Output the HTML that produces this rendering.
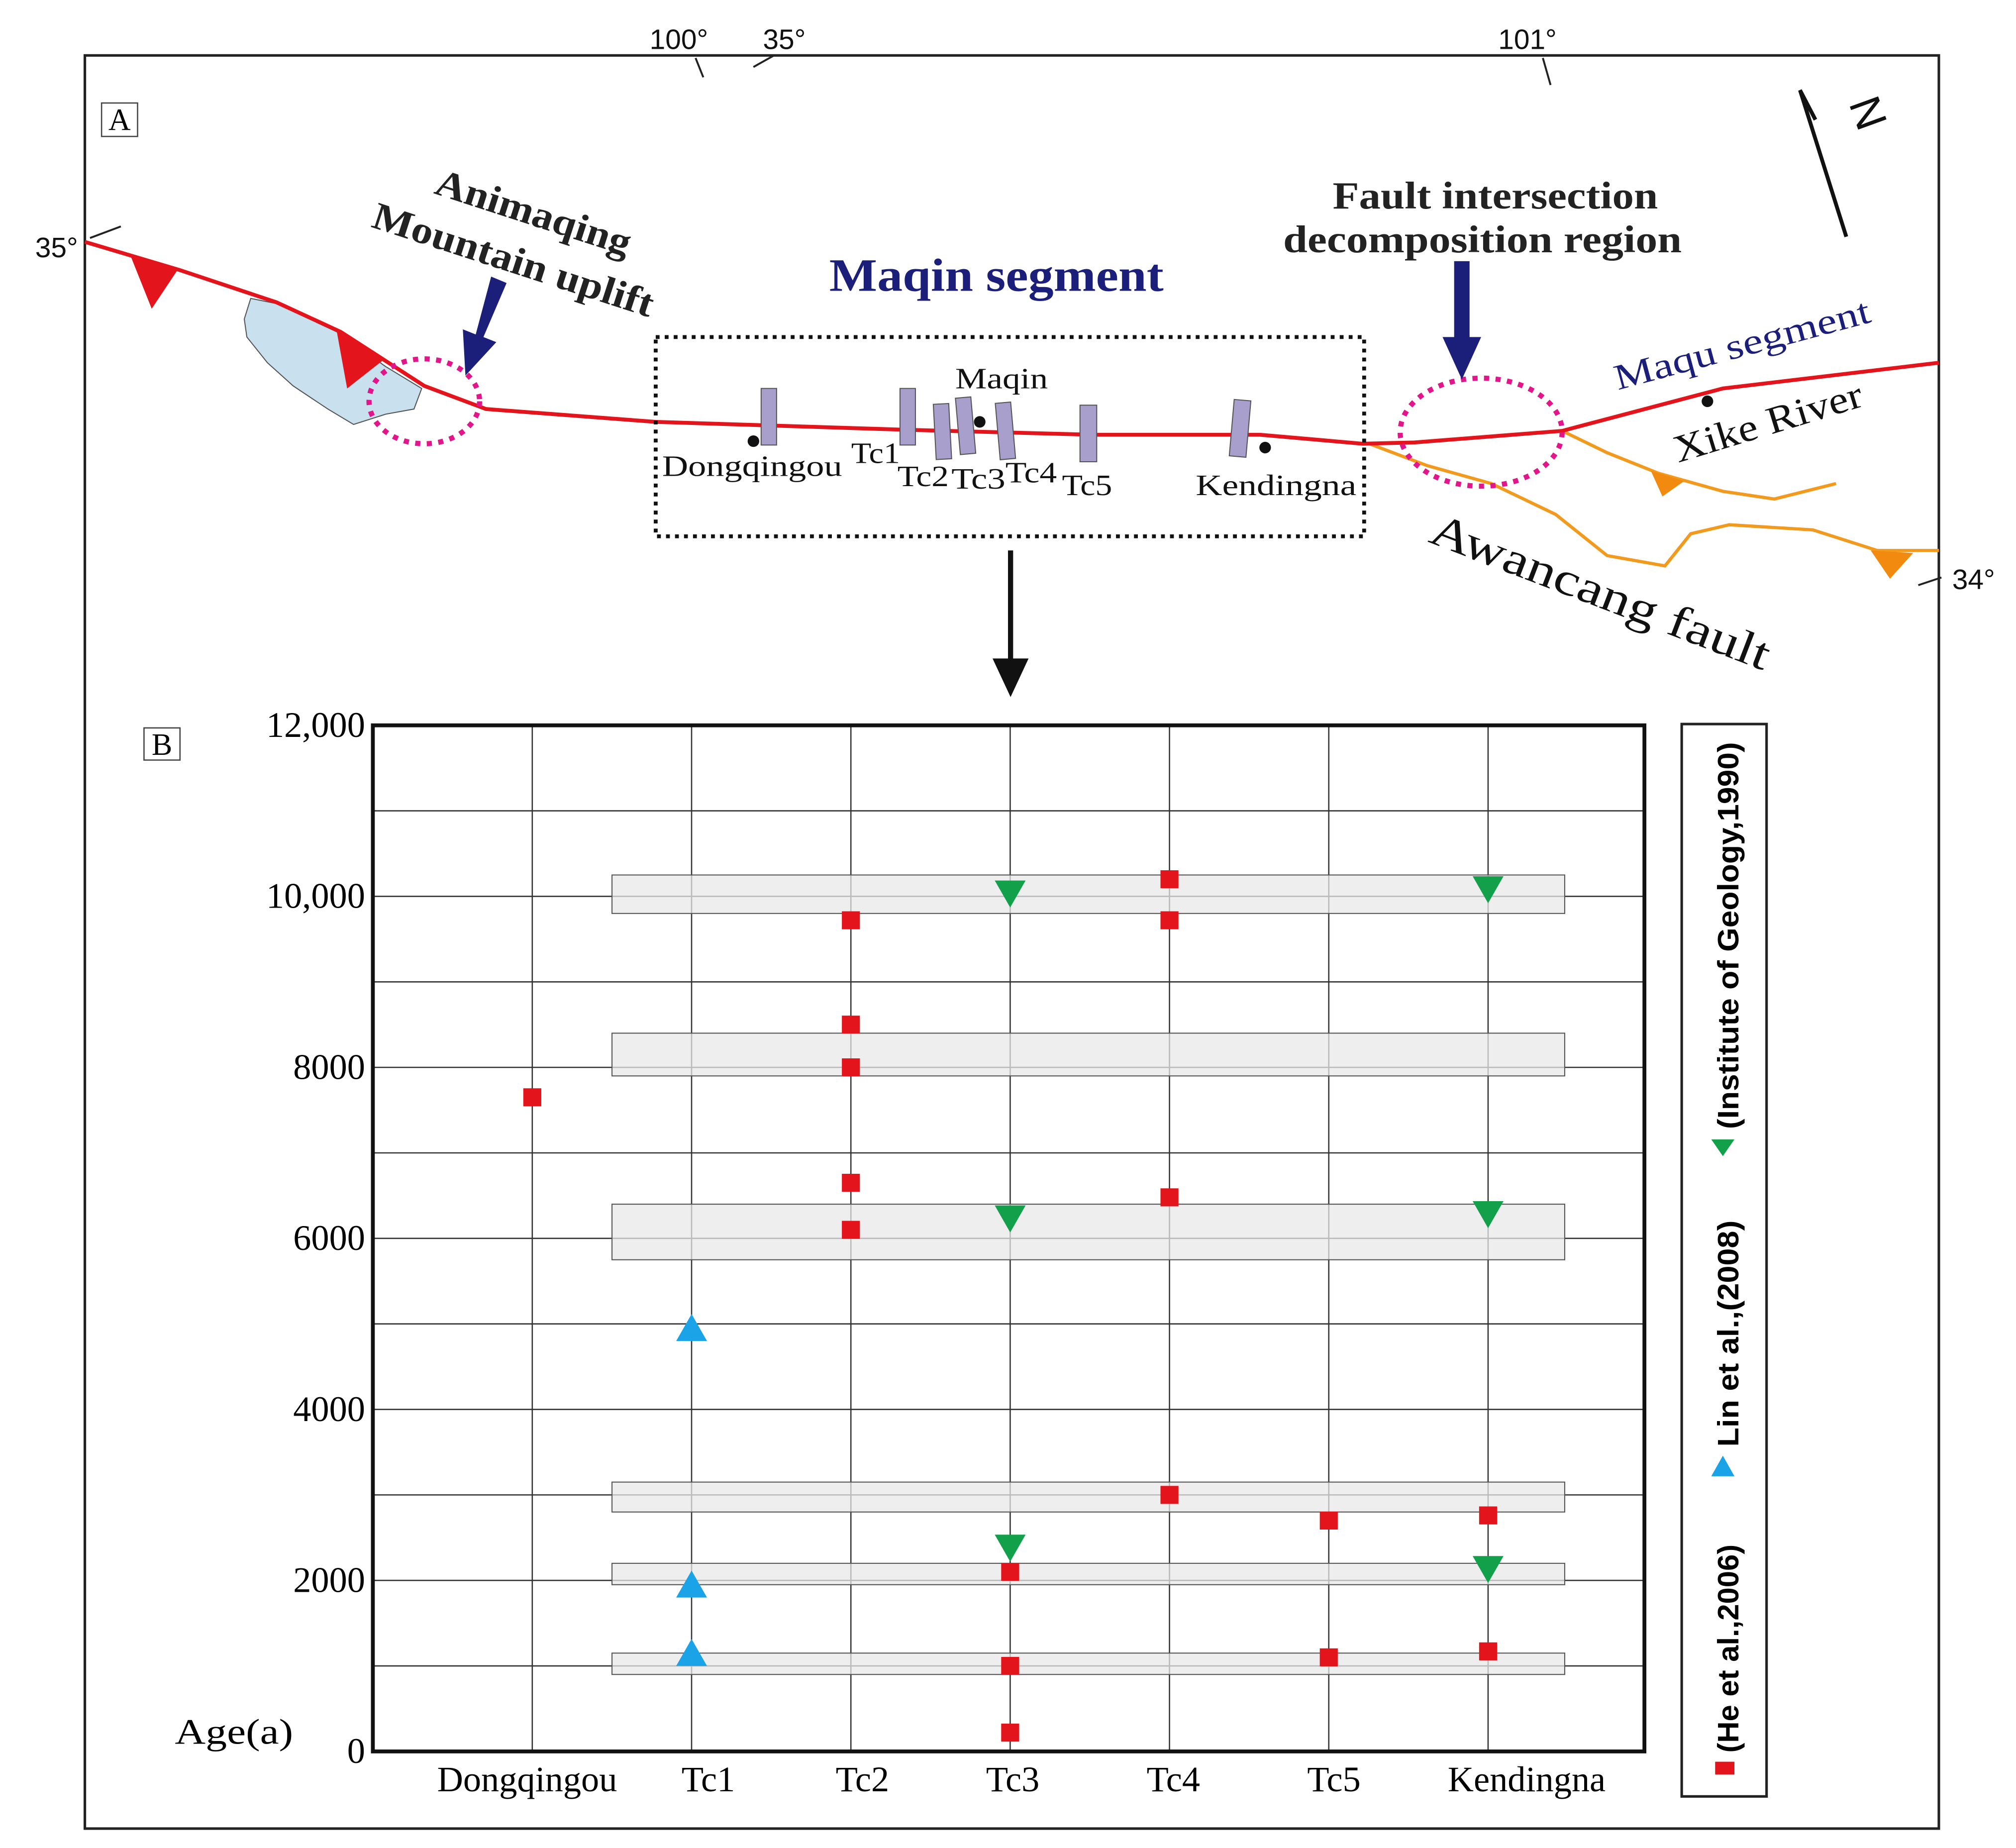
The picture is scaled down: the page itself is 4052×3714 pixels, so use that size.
<!DOCTYPE html>
<html><head><meta charset="utf-8"><style>
html,body{margin:0;padding:0;background:#fff}
svg{display:block}
.serif{font-family:"Liberation Serif",serif}
.sans{font-family:"Liberation Sans",sans-serif}
</style></head><body>
<svg id="fig" width="4052" height="3714" viewBox="0 0 1568 1437" xmlns="http://www.w3.org/2000/svg">
<rect x="66" y="43" width="1442" height="1379" fill="none" stroke="#222" stroke-width="2"/>
<g>
<rect x="79" y="80" width="28" height="26" fill="#fff" stroke="#444" stroke-width="1"/>
<text class="serif" x="93" y="101" font-size="24" text-anchor="middle">A</text>
<g class="sans" font-size="22" fill="#111">
<text x="528" y="38" text-anchor="middle">100°</text>
<text x="610" y="38" text-anchor="middle">35°</text>
<text x="1188" y="38" text-anchor="middle">101°</text>
<text x="44" y="200" text-anchor="middle">35°</text>
<text x="1535" y="458" text-anchor="middle">34°</text>
</g>
<g stroke="#222" stroke-width="1.5">
<line x1="541" y1="45" x2="547" y2="60"/><line x1="586" y1="52" x2="602" y2="43"/>
<line x1="1200" y1="45" x2="1206" y2="66"/><line x1="70" y1="185" x2="94" y2="176"/>
<line x1="1492" y1="455" x2="1510" y2="449"/>
</g>
<g stroke="#111" stroke-width="3" fill="none">
<polyline points="1412,93 1400,70 1436,184"/>
<text class="sans" x="1438" y="100" font-size="34" fill="#111" stroke="none" transform="rotate(70 1452 90)">N</text>
</g>
<polygon points="195,232 215,236 262,258 300,285 328,302 322,318 300,322 275,330 255,318 228,300 208,282 192,262 190,248" fill="#c9e0ee" stroke="#555" stroke-width="0.8"/>
<polyline points="1215,335 1250,352 1290,368 1340,382 1380,388 1428,376" fill="none" stroke="#f29a1e" stroke-width="2.5"/>
<polyline points="1065,345 1110,362 1160,376 1210,400 1250,432 1295,440 1315,415 1345,408 1410,412 1460,428 1508,428" fill="none" stroke="#f29a1e" stroke-width="2.5"/>
<polygon points="1284,366 1310,374 1293,386" fill="#f28a10"/>
<polygon points="1455,428 1488,430 1470,450" fill="#f28a10"/>
<polyline points="66,188 140,210 215,235 265,258 330,300 378,318 510,328 700,334 850,338 980,338 1060,345 1100,344 1215,335 1340,302 1508,282" fill="none" stroke="#e3141c" stroke-width="3"/>
<polygon points="102,200 138,210 118,240" fill="#e3141c"/>
<polygon points="262,258 298,280 270,302" fill="#e3141c"/>
<ellipse cx="330" cy="312" rx="43" ry="33" fill="none" stroke="#e0168a" stroke-width="4" stroke-dasharray="4,5"/>
<ellipse cx="1152" cy="336" rx="63" ry="42" fill="none" stroke="#e0168a" stroke-width="4" stroke-dasharray="4,5"/>
<g fill="#1c1f7a">
<polygon points="382,215 394,220 376,262 386,266 362,292 360,256 370,260"/>
<polygon points="1131,203 1143,203 1143,262 1152,262 1137,295 1122,262 1131,262"/>
</g>
<rect x="510" y="262" width="551" height="155" fill="none" stroke="#111" stroke-width="3" stroke-dasharray="3,4"/>
<g fill="#a89fcc" stroke="#555" stroke-width="0.8">
<rect x="592" y="302" width="12" height="44"/>
<rect x="700" y="302" width="12" height="44"/>
<rect x="727" y="314" width="12" height="43" transform="rotate(-3 733 335)"/>
<rect x="745" y="309" width="12" height="44" transform="rotate(-5 751 331)"/>
<rect x="776" y="313" width="12" height="44" transform="rotate(-5 782 335)"/>
<rect x="840" y="315" width="13" height="44"/>
<rect x="958" y="311" width="13" height="44" transform="rotate(5 964 333)"/>
</g>
<g fill="#111">
<circle cx="586" cy="343" r="4.5"/><circle cx="762" cy="328" r="4.5"/><circle cx="984" cy="348" r="4.5"/><circle cx="1328" cy="312" r="4.5"/>
</g>
<g class="serif" font-size="23" fill="#111">
<text x="515" y="370" textLength="140" lengthAdjust="spacingAndGlyphs">Dongqingou</text>
<text x="662" y="360" textLength="38" lengthAdjust="spacingAndGlyphs">Tc1</text>
<text x="698" y="378" textLength="40" lengthAdjust="spacingAndGlyphs">Tc2</text>
<text x="740" y="380" textLength="42" lengthAdjust="spacingAndGlyphs">Tc3</text>
<text x="782" y="375" textLength="40" lengthAdjust="spacingAndGlyphs">Tc4</text>
<text x="826" y="385" textLength="39" lengthAdjust="spacingAndGlyphs">Tc5</text>
<text x="743" y="302" textLength="72" lengthAdjust="spacingAndGlyphs">Maqin</text>
<text x="930" y="385" textLength="125" lengthAdjust="spacingAndGlyphs">Kendingna</text>
</g>
<g class="serif" font-weight="bold" fill="#222" font-size="30">
<text x="415" y="175" text-anchor="middle" transform="rotate(18 415 165)" textLength="158" lengthAdjust="spacingAndGlyphs">Animaqing</text>
<text x="400" y="212" text-anchor="middle" transform="rotate(18 400 200)" textLength="228" lengthAdjust="spacingAndGlyphs">Mountain uplift</text>
<text x="1163" y="162" text-anchor="middle" textLength="253" lengthAdjust="spacingAndGlyphs">Fault intersection</text>
<text x="1153" y="196" text-anchor="middle" textLength="310" lengthAdjust="spacingAndGlyphs">decomposition region</text>
</g>
<text class="serif" font-weight="bold" x="775" y="226" font-size="36" fill="#1c1f7a" text-anchor="middle" textLength="260" lengthAdjust="spacingAndGlyphs">Maqin segment</text>
<text class="serif" x="1355" y="277" font-size="28" fill="#1c1f7a" text-anchor="middle" transform="rotate(-15 1355 268)" textLength="205" lengthAdjust="spacingAndGlyphs">Maqu segment</text>
<text class="serif" x="1375" y="338" font-size="30" fill="#111" text-anchor="middle" transform="rotate(-17 1375 328)" textLength="152" lengthAdjust="spacingAndGlyphs">Xike River</text>
<text class="serif" x="1245" y="472" font-size="36" fill="#111" text-anchor="middle" transform="rotate(21 1245 460)" textLength="280" lengthAdjust="spacingAndGlyphs">Awancang  fault</text>
<g>
<line x1="786" y1="428" x2="786" y2="515" stroke="#111" stroke-width="4"/>
<polygon points="772,512 800,512 786,542" fill="#111"/>
</g>
</g>
<g id="chart"></g>
</svg>
<script>
const categories = ["Dongqingou","Tc1","Tc2","Tc3","Tc4","Tc5","Kendingna"];
const yTicks = [0,2000,4000,6000,8000,10000,12000];
const yTickLabels = ["0","2000","4000","6000","8000","10,000","12,000"];
const heCat = ["Dongqingou","Tc2","Tc2","Tc2","Tc2","Tc2","Tc3","Tc3","Tc3","Tc4","Tc4","Tc4","Tc4","Tc5","Tc5","Kendingna","Kendingna"];
const heAge = [7650,9720,8500,8000,6650,6100,2100,1000,220,10200,9720,6480,3000,2700,1100,2760,1170];
const linCat = ["Tc1","Tc1","Tc1"];
const linAge = [4950,1950,1150];
const igCat = ["Tc3","Tc3","Tc3","Kendingna","Kendingna","Kendingna"];
const igAge = [10050,6250,2400,10100,6300,2150];
const bandLow = [9800,7900,5750,2800,1950,900];
const bandHigh = [10250,8400,6400,3150,2200,1150];

const NS="http://www.w3.org/2000/svg";
const g=document.getElementById('chart');
const X0=290,X1=1279,Y0=1362,Y1=564;
const yScale=v=>Y0-(v/12000)*(Y0-Y1);
const xScale=c=>414+categories.indexOf(c)*123.9;
function mk(tag,attrs){const e=document.createElementNS(NS,tag);for(const k in attrs)e.setAttribute(k,attrs[k]);g.appendChild(e);return e;}

let el=mk('rect',{x:112,y:566,width:28,height:25,fill:'#fff',stroke:'#444','stroke-width':1});


el=mk('text',{x:126,y:587,'font-size':24,'text-anchor':'middle',class:'serif'});el.textContent='B';



for(let v=1000;v<12000;v+=1000){
  el=mk('line',{x1:X0,x2:X1,y1:yScale(v),y2:yScale(v),stroke:'#333','stroke-width':1});
  
  
}
categories.forEach(c=>{
  el=mk('line',{x1:xScale(c),x2:xScale(c),y1:Y1,y2:Y0,stroke:'#333','stroke-width':1});
  
  
});
bandLow.forEach((lo,i)=>{
  const yt=yScale(bandHigh[i]),yb=yScale(lo);
  el=mk('rect',{x:476,y:yt,width:741,height:yb-yt,fill:'#e8e8e8','fill-opacity':0.75,stroke:'#555','stroke-width':0.8});
  
  
});
el=mk('rect',{x:X0,y:Y1,width:X1-X0,height:Y0-Y1,fill:'none',stroke:'#111','stroke-width':3});



yTicks.forEach((v,i)=>{
  el=mk('text',{x:284,y:yScale(v)+9,'font-size':28,'text-anchor':'end',class:'serif'});el.textContent=yTickLabels[i];
  
  
});
el=mk('text',{x:136,y:1356,'font-size':28,class:'serif',textLength:92,lengthAdjust:'spacingAndGlyphs'});el.textContent='Age(a)';


const xoff=[-4,13,9,2,3,4,30];
categories.forEach((c,i)=>{
  el=mk('text',{x:xScale(c)+xoff[i],y:1393,'font-size':28,'text-anchor':'middle',class:'serif'});el.textContent=c;
  
  
});
heAge.forEach((a,i)=>{
  const x=xScale(heCat[i]),y=yScale(a);
  el=mk('rect',{x:x-7,y:y-7,width:14,height:14,fill:'#e3141c'});
  
  
});
linAge.forEach((a,i)=>{
  const x=xScale(linCat[i]),y=yScale(a);
  el=mk('polygon',{points:`${x-12},${y+10} ${x+12},${y+10} ${x},${y-11}`,fill:'#1aa3e6'});
  
  
});
igAge.forEach((a,i)=>{
  const x=xScale(igCat[i]),y=yScale(a);
  el=mk('polygon',{points:`${x-12},${y-9} ${x+12},${y-9} ${x},${y+12}`,fill:'#12a04a'});
  
  
});
el=mk('rect',{x:1308,y:563,width:66,height:834,fill:'#fff',stroke:'#222','stroke-width':2});


const lg=document.createElementNS(NS,'g');lg.setAttribute('transform','translate(1340,1395) rotate(-90)');g.appendChild(lg);


function lmk(tag,attrs){const e=document.createElementNS(NS,tag);for(const k in attrs)e.setAttribute(k,attrs[k]);lg.appendChild(e);return e;}
el=lmk('rect',{x:15,y:-6,width:10,height:15,fill:'#e3141c'});


el=lmk('text',{x:32,y:12,'font-size':23,'font-weight':'bold',class:'sans',textLength:162,lengthAdjust:'spacingAndGlyphs'});el.textContent='(He et al.,2006)';


el=lmk('polygon',{points:'247,-9 247,9 263,0',fill:'#1aa3e6'});


el=lmk('text',{x:270,y:12,'font-size':23,'font-weight':'bold',class:'sans',textLength:176,lengthAdjust:'spacingAndGlyphs'});el.textContent='Lin et al.,(2008)';


el=lmk('polygon',{points:'509,-9 509,9 496,0',fill:'#12a04a'});


el=lmk('text',{x:517,y:12,'font-size':23,'font-weight':'bold',class:'sans',textLength:301,lengthAdjust:'spacingAndGlyphs'});el.textContent='(Institute of Geology,1990)';


</script>
</body></html>
